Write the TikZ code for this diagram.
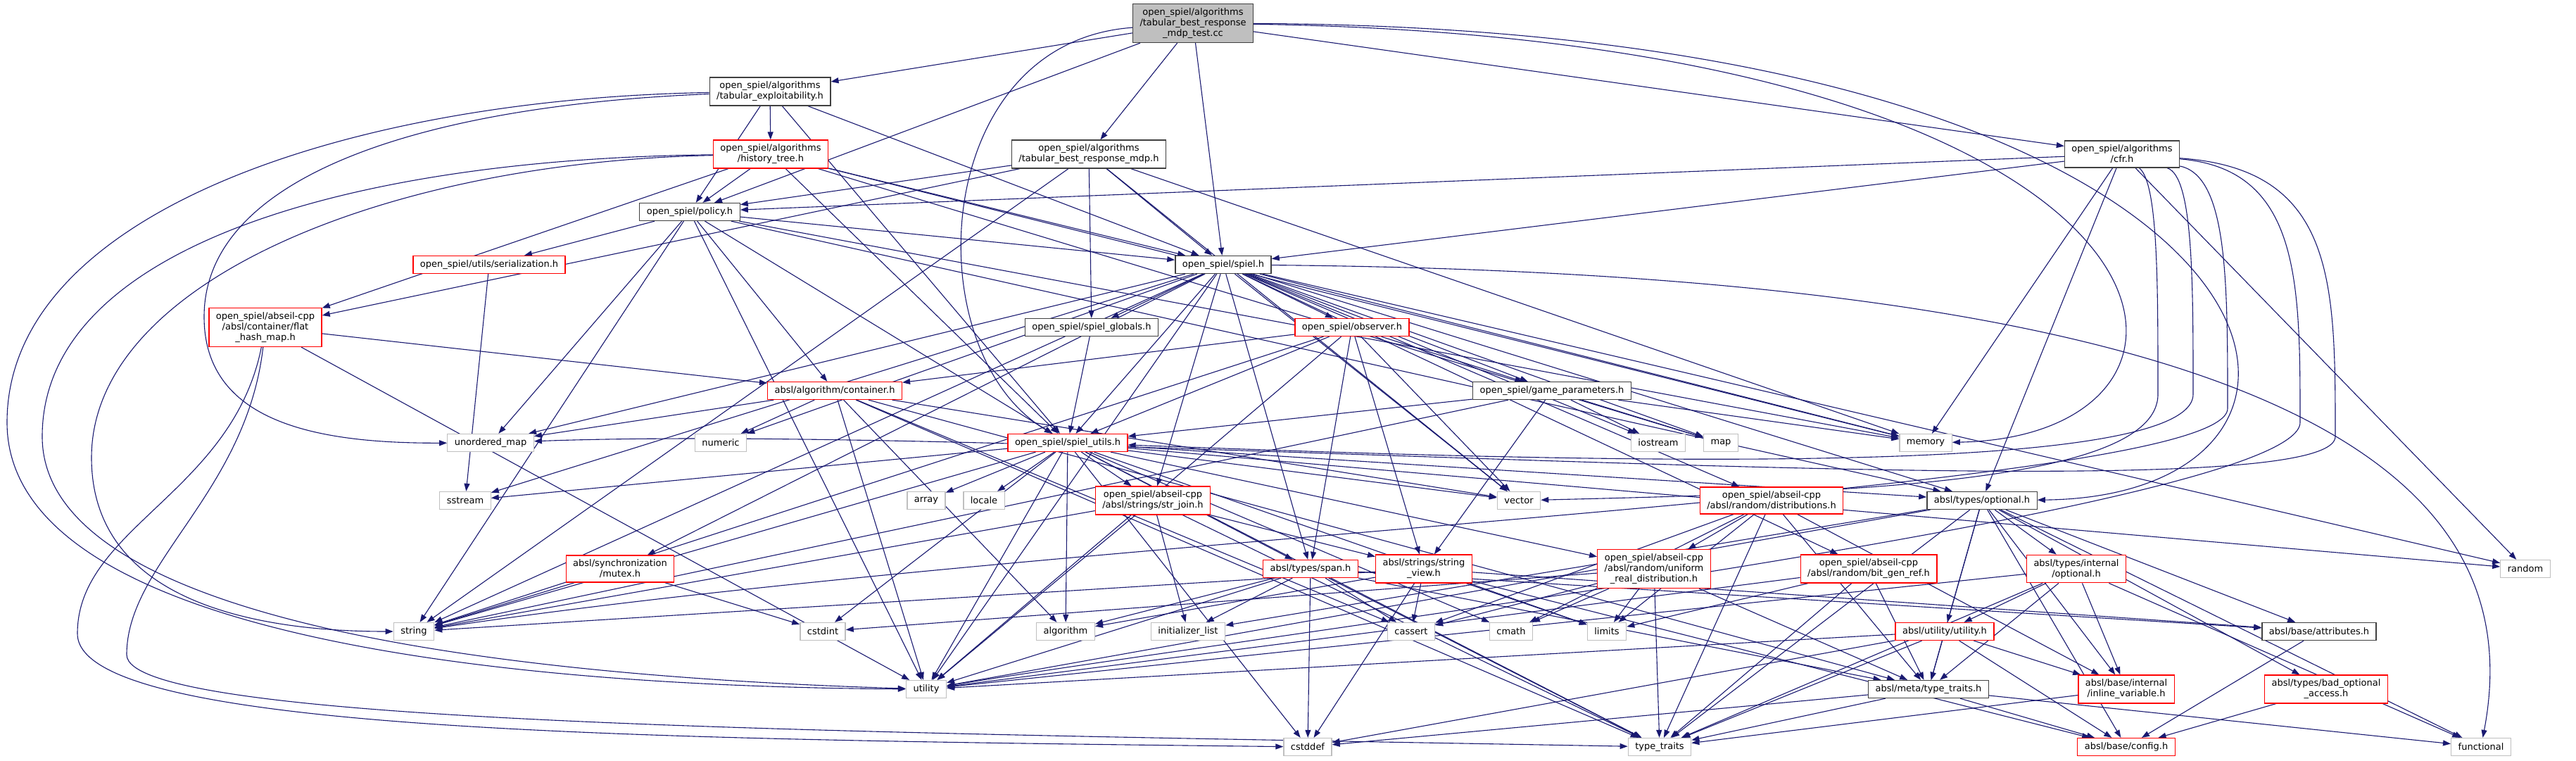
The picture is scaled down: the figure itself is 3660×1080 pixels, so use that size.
\documentclass[tikz,border=0pt]{standalone}
\usepackage{fontspec}
\setmainfont{DejaVu Sans}
\usetikzlibrary{arrows.meta,backgrounds}
\definecolor{doxedge}{HTML}{191970}
\definecolor{doxred} {HTML}{FF0000}
\definecolor{doxgray}{HTML}{BFBFBF}
\definecolor{doxdark}{HTML}{404040}

\begin{document}
\begin{tikzpicture}[
  x=1pt, y=-1pt,
  hdr/.style={draw=doxdark, fill=white, line width=1.3pt, align=center,
              inner xsep=10pt, inner ysep=6pt, minimum height=25pt,
              font=\fontsize{13}{15}\selectfont},
  hdrcut/.style={hdr, draw=doxred},
  hdrsys/.style={hdr, draw=doxgray},
  hdrroot/.style={hdr, fill=doxgray},
  dep/.style={draw=doxedge, line width=1.1pt,
              -{Triangle[length=11pt,width=8pt]}},
]
  \useasboundingbox (0,0) rectangle (3660,1080);

  % project headers
  \node[hdrroot] (root)   at (1695,33)  {open\_spiel/algorithms\\/tabular\_best\_response\\\_mdp\_test.cc};
  \node[hdr]    (texpl)   at (1094,130) {open\_spiel/algorithms\\/tabular\_exploitability.h};
  \node[hdrcut] (htree)   at (1095,219) {open\_spiel/algorithms\\/history\_tree.h};
  \node[hdr]    (tbrmdp)  at (1547,219) {open\_spiel/algorithms\\/tabular\_best\_response\_mdp.h};
  \node[hdr]    (cfr)     at (3015,219) {open\_spiel/algorithms\\/cfr.h};
  \node[hdr]    (policy)  at (980,301)  {open\_spiel/policy.h};
  \node[hdrcut] (serial)  at (695,376)  {open\_spiel/utils/serialization.h};
  \node[hdr]    (spiel)   at (1738,376) {open\_spiel/spiel.h};
  \node[hdrcut] (flathash) at (377,465) {open\_spiel/abseil-cpp\\/absl/container/flat\\\_hash\_map.h};
  \node[hdr]    (globals) at (1551,465) {open\_spiel/spiel\_globals.h};
  \node[hdrcut] (observer) at (1921,465) {open\_spiel/observer.h};
  \node[hdrcut] (container) at (1186,555) {absl/algorithm/container.h};
  \node[hdr]    (gparams) at (2205,555) {open\_spiel/game\_parameters.h};
  \node[hdrcut] (utils)   at (1517,629) {open\_spiel/spiel\_utils.h};
  \node[hdrcut] (strjoin) at (1638,711) {open\_spiel/abseil-cpp\\/absl/strings/str\_join.h};
  \node[hdrcut] (distrib) at (2517,711) {open\_spiel/abseil-cpp\\/absl/random/distributions.h};
  \node[hdr]    (optional) at (2816,711) {absl/types/optional.h};
  \node[hdrcut] (mutex)   at (881,808)  {absl/synchronization\\/mutex.h};
  \node[hdrcut] (span)    at (1862,808) {absl/types/span.h};
  \node[hdrcut] (strview) at (2023,808) {absl/strings/string\\\_view.h};
  \node[hdrcut] (uniform) at (2350,808) {open\_spiel/abseil-cpp\\/absl/random/uniform\\\_real\_distribution.h};
  \node[hdrcut] (bitgen)  at (2655,808) {open\_spiel/abseil-cpp\\/absl/random/bit\_gen\_ref.h};
  \node[hdrcut] (intopt)  at (2950,808) {absl/types/internal\\/optional.h};
  \node[hdrcut] (utilh)   at (2763,897) {absl/utility/utility.h};
  \node[hdr]    (attrib)  at (3295,897) {absl/base/attributes.h};
  \node[hdr]    (metatt)  at (2740,979) {absl/meta/type\_traits.h};
  \node[hdrcut] (inlinev) at (3021,979) {absl/base/internal\\/inline\_variable.h};
  \node[hdrcut] (badopt)  at (3305,979) {absl/types/bad\_optional\\\_access.h};
  \node[hdrcut] (config)  at (3021,1061) {absl/base/config.h};

  % system headers
  \node[hdrsys] (umap)     at (697,629)  {unordered\_map};
  \node[hdrsys] (numeric)  at (1024,629) {numeric};
  \node[hdrsys] (iostream) at (2356,629) {iostream};
  \node[hdrsys] (map)      at (2445,629) {map};
  \node[hdrsys] (memory)   at (2736,629) {memory};
  \node[hdrsys] (sstream)  at (661,711)  {sstream};
  \node[hdrsys] (array)    at (1316,711) {array};
  \node[hdrsys] (locale)   at (1398,711) {locale};
  \node[hdrsys] (vector)   at (2158,711) {vector};
  \node[hdrsys] (random)   at (3588,808) {random};
  \node[hdrsys] (string)   at (588,897)  {string};
  \node[hdrsys] (cstdint)  at (1169,897) {cstdint};
  \node[hdrsys] (algorithm) at (1514,897) {algorithm};
  \node[hdrsys] (initlist) at (1688,897) {initializer\_list};
  \node[hdrsys] (cassert)  at (2005,897) {cassert};
  \node[hdrsys] (cmath)    at (2147,897) {cmath};
  \node[hdrsys] (limits)   at (2283,897) {limits};
  \node[hdrsys] (utility)  at (1316,979) {utility};
  \node[hdrsys] (cstddef)  at (1858,1061) {cstddef};
  \node[hdrsys] (typetraits) at (2358,1061) {type\_traits};
  \node[hdrsys] (functional) at (3525,1061) {functional};

  \begin{scope}[on background layer]
    \foreach \t in {texpl,tbrmdp,policy,spiel,cfr}
      \draw[dep] (root) -- (\t);
    \draw[dep] (root) .. controls (1320,60) and (1300,500) .. (utils);
    \draw[dep] (root) .. controls (3150,55) and (3217,620) .. (memory);
    \draw[dep] (root) .. controls (3300,40) and (3420,705) .. (optional);

    % long sweeps down the left margin
    \draw[dep] (texpl) .. controls (500,140) and (10,300) .. (10,600)
                       .. controls (10,900) and (700,975) .. (utility);
    \draw[dep] (texpl) .. controls (600,150) and (290,250) .. (290,450)
                       .. controls (290,600) and (450,630) .. (umap);
    \draw[dep] (htree) .. controls (500,225) and (60,350) .. (60,620)
                       .. controls (60,880) and (700,960) .. (utility);
    \draw[dep] (htree) .. controls (550,230) and (130,400) .. (130,650)
                       .. controls (130,870) and (400,897) .. (string);
    \draw[dep] (flathash) .. controls (330,700) and (110,750) .. (110,900)
                          .. controls (110,1040) and (900,1050) .. (cstddef);
    \draw[dep] (flathash) .. controls (350,700) and (180,800) .. (180,930)
                          .. controls (180,1030) and (1200,1040) .. (typetraits);

    % sweeps down the right side of cfr.h
    \draw[dep] (cfr) .. controls (3066,260) and (3066,400) .. (3066,560)
                     .. controls (3066,690) and (2600,700) .. (vector);
    \draw[dep] (cfr) .. controls (3116,250) and (3116,400) .. (3116,560)
                     .. controls (3116,690) and (2100,650) .. (utils);
    \draw[dep] (cfr) .. controls (3165,250) and (3165,400) .. (3165,580)
                     .. controls (3165,700) and (1500,760) .. (string);
    \draw[dep] (cfr) .. controls (3268,240) and (3268,400) .. (3268,600)
                     .. controls (3268,720) and (1800,900) .. (utility);
    \draw[dep] (cfr) .. controls (3318,240) and (3318,400) .. (3318,620)
                     .. controls (3318,740) and (1500,600) .. (umap);

    \foreach \t in {htree,policy,spiel,utils}
      \draw[dep] (texpl) -- (\t);
    \foreach \t in {policy,spiel,utils,flathash,memory,map}
      \draw[dep] (htree) -- (\t);
    \foreach \t in {flathash,policy,spiel,globals,memory,string,vector}
      \draw[dep] (tbrmdp) -- (\t);
    \foreach \t in {policy,spiel,memory,random,optional}
      \draw[dep] (cfr) -- (\t);
    \foreach \t in {serial,spiel,container,utils,umap,memory,string,utility,optional}
      \draw[dep] (policy) -- (\t);
    \draw[dep] (serial) -- (sstream);
    \foreach \t in {container,utility}
      \draw[dep] (flathash) -- (\t);

    \foreach \t in {globals,observer,gparams,utils,strjoin,span,mutex,bitgen,distrib,
                    optional,umap,string,sstream,numeric,vector,iostream,map,memory,
                    random,utility}
      \draw[dep] (spiel) -- (\t);
    \draw[dep] (spiel) .. controls (3350,390) and (3590,720) .. (functional);
    \draw[dep] (globals) -- (utils);
    \foreach \t in {container,gparams,utils,span,strview,string,vector,utility}
      \draw[dep] (observer) -- (\t);
    \foreach \t in {iostream,map,memory,string,utils,strview}
      \draw[dep] (gparams) -- (\t);
    \foreach \t in {umap,numeric,algorithm,cassert,typetraits,utility,vector,metatt}
      \draw[dep] (container) -- (\t);

    \foreach \t in {sstream,string,array,locale,cstdint,algorithm,strjoin,span,uniform,
                    utility,vector,optional,typetraits,cstddef,cmath,random,limits}
      \draw[dep] (utils) -- (\t);
    \foreach \t in {string,strview,utility,initlist,typetraits}
      \draw[dep] (strjoin) -- (\t);
    \foreach \t in {string,cstdint}
      \draw[dep] (mutex) -- (\t);
    \foreach \t in {algorithm,cassert,cstddef,initlist,typetraits,utility,metatt,attrib}
      \draw[dep] (span) -- (\t);
    \foreach \t in {string,algorithm,cassert,cstddef,limits,config,attrib}
      \draw[dep] (strview) -- (\t);
    \foreach \t in {cassert,cmath,cstdint,limits,typetraits,metatt}
      \draw[dep] (uniform) -- (\t);
    \foreach \t in {uniform,cassert,cmath,limits,typetraits,inlinev,metatt}
      \draw[dep] (distrib) -- (\t);
    \foreach \t in {limits,typetraits,utility,metatt}
      \draw[dep] (bitgen) -- (\t);

    \foreach \t in {functional,initlist,typetraits,utility,config,attrib,inlinev,
                    metatt,badopt,intopt,utilh}
      \draw[dep] (optional) -- (\t);
    \foreach \t in {functional,typetraits,utility,inlinev,metatt,utilh}
      \draw[dep] (intopt) -- (\t);
    \foreach \t in {cstddef,typetraits,utility,config,inlinev,metatt}
      \draw[dep] (utilh) -- (\t);
    \foreach \t in {cstddef,typetraits,config,functional}
      \draw[dep] (metatt) -- (\t);
    \draw[dep] (attrib) -- (config);
    \draw[dep] (inlinev) -- (typetraits);
    \draw[dep] (badopt) -- (config);
  \end{scope}
\end{tikzpicture}
\end{document}
